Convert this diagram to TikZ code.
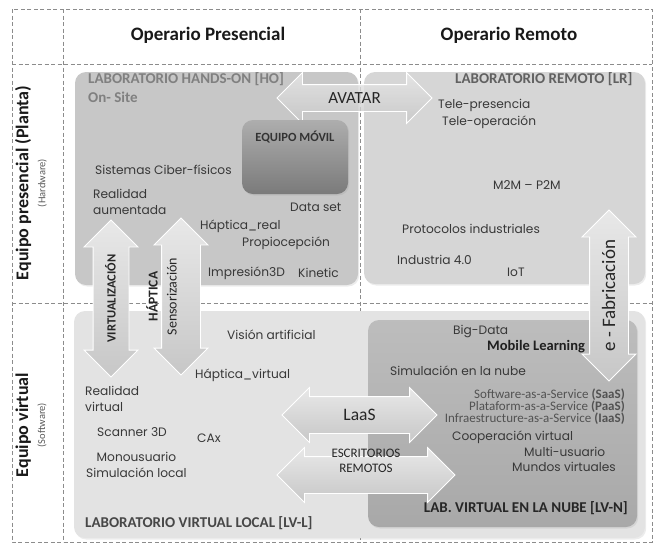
\documentclass[tikz,border=0pt]{standalone}
\usepackage{fontspec}
\setmainfont{Carlito}
\newfontfamily\geo{Poppins}
\usetikzlibrary{shapes.arrows,shadows,positioning}

\begin{document}
\begin{tikzpicture}[x=1pt,y=-1pt]
  \tikzstyle{grid}=[draw=black!45,line width=0.6pt,dash pattern=on 4pt off 2.5pt]
  \tikzstyle{lab}=[rounded corners=11pt,inner sep=0pt,drop shadow={opacity=0.15,shadow xshift=1.2pt,shadow yshift=-1.5pt}]
  \tikzstyle{item}=[font=\geo\fontsize{12.2}{15.5}\selectfont,text=black!78,inner sep=0pt,anchor=west,align=left]
  \tikzstyle{labtitle}=[font=\bfseries\fontsize{15}{18}\selectfont,inner sep=0pt,anchor=west]
  \tikzstyle{service}=[font=\fontsize{13}{15}\selectfont,text=black!68,inner sep=0pt,anchor=east]
  \tikzstyle{heading}=[font=\bfseries\fontsize{18}{20}\selectfont,text=black!90,inner sep=0pt,align=center]
  \tikzstyle{flow}=[double arrow,double arrow tip angle=90,inner xsep=0pt,align=center,
    top color=black!9,bottom color=black!22,draw=white,line width=0.8pt,text=black!85]
  \useasboundingbox (0,0) rectangle (657,547);

  % grid of the table
  \draw[grid] (12,9) rectangle (652,542);
  \draw[grid] (63,9) -- (63,542);
  \draw[grid] (12,64) -- (652,64);
  \draw[grid] (12,303) -- (652,303);
  \draw[grid] (360,9) -- (360,542);

  \node[heading,font=\bfseries\fontsize{19}{21}\selectfont] (presencial) at (208,35) {Operario Presencial};
  \node[heading,font=\bfseries\fontsize{19}{21}\selectfont] (remoto) at (509,35) {Operario Remoto};
  \node[heading,rotate=90] (planta) at (31,183) {Equipo presencial (Planta)\\[-3pt]{\mdseries\fontsize{10.5}{12}\selectfont\color{black!65}(Hardware)}};
  \node[heading,rotate=90] (virtual) at (31,425) {Equipo virtual\\[-3pt]{\mdseries\fontsize{10.5}{12}\selectfont\color{black!65}(Software)}};

  % laboratories
  \node[lab,fill=black!11,minimum width=571pt,minimum height=227pt] (lvl) at (359.5,424.5) {};
  \node[lab,top color=black!26,bottom color=black!34,minimum width=269pt,minimum height=207pt] (lvn) at (502.5,423.5) {};
  \node[lab,fill=black!22,minimum width=283pt,minimum height=213pt] (ho) at (216.5,178.5) {};
  \node[lab,fill=black!16,minimum width=281pt,minimum height=212pt] (lr) at (504.5,178) {};

  % arrows between the laboratories
  \node[flow,font=\fontsize{17}{19}\selectfont,fill opacity=0.8,text opacity=1,minimum height=155pt,
    double arrow head extend=12pt,text height=11pt,text depth=1pt,inner ysep=7pt] (avatar) at (354.5,98) {AVATAR};
  \node[lab,top color=black!32,bottom color=black!52,minimum width=106pt,minimum height=74pt] (movil) at (295,157) {};
  \node[font=\bfseries\fontsize{12.5}{14}\selectfont,text=black!80] (moviltxt) at (295,137) {EQUIPO MÓVIL};

  \node[flow,rotate=90,font=\bfseries\fontsize{12.5}{14}\selectfont,minimum height=157pt,
    double arrow head extend=9pt,text height=9pt,text depth=0pt,inner ysep=13pt] (virt) at (111,298.5) {VIRTUALIZACIÓN};
  \node[flow,rotate=90,font=\fontsize{14}{19}\selectfont,minimum height=157pt,
    double arrow head extend=7.5pt,text height=10pt,text depth=19pt,inner ysep=4.5pt] (haptic) at (181,296.5) {{\bfseries\fontsize{13.5}{19}\selectfont HÁPTICA}\\Sensorización};
  \node[flow,rotate=90,font=\fontsize{19}{21}\selectfont,minimum height=171pt,
    double arrow head extend=7.5pt,text height=13pt,text depth=1pt,inner ysep=12pt] (efab) at (609,295.5) {e - Fabricación};
  \node[flow,font=\fontsize{17.5}{19}\selectfont,minimum height=155pt,
    double arrow head extend=9pt,text height=11pt,text depth=1pt,inner ysep=12pt] (laas) at (359.5,415) {LaaS};
  \node[flow,font=\fontsize{13}{15}\selectfont,minimum height=178pt,
    double arrow head extend=9pt,text height=9pt,text depth=15pt,inner ysep=6pt] (desk) at (366,475) {ESCRITORIOS\\REMOTOS};

  % hands-on
  \node[labtitle,text=black!50] (hotitle) at (88,79) {LABORATORIO HANDS-ON [HO]};
  \node[labtitle,text=black!50] (onsite) at (88,97) {On- Site};
  \node[item] (cps) at (95,170) {Sistemas Ciber-físicos};
  \node[item] (ar) at (93,202) {Realidad\\aumentada};
  \node[item] (dataset) at (290,207) {Data set};
  \node[item] (hreal) at (200,226) {Háptica\_real};
  \node[item] (propio) at (242,243) {Propiocepción};
  \node[item] (print3d) at (208,273) {Impresión3D};
  \node[item] (kinetic) at (298,273) {Kinetic};

  % remote
  \node[labtitle,text=black!62] (lrtitle) at (455,79) {LABORATORIO REMOTO [LR]};
  \node[item] (telep) at (438,105) {Tele-presencia};
  \node[item] (teleo) at (442,122) {Tele-operación};
  \node[item] (m2m) at (493,185) {M2M – P2M};
  \node[item] (proto) at (402,229) {Protocolos industriales};
  \node[item] (i40) at (397,260) {Industria 4.0};
  \node[item] (iot) at (507,272) {IoT};

  % local virtual
  \node[item] (vision) at (227,335) {Visión artificial};
  \node[item] (hvirt) at (195,375) {Háptica\_virtual};
  \node[item] (vr) at (85,399) {Realidad\\virtual};
  \node[item] (scan) at (97,432) {Scanner 3D};
  \node[item] (cax) at (197,438) {CAx};
  \node[item,align=center] (mono) at (86,465) {Monousuario\\Simulación local};
  \node[labtitle,text=black!72] (lvltitle) at (85,523) {LABORATORIO VIRTUAL LOCAL [LV-L]};

  % cloud
  \node[item] (bigdata) at (453,331) {Big-Data};
  \node[labtitle,font=\bfseries\fontsize{14.5}{16}\selectfont,text=black!88] (mobile) at (487,347) {Mobile Learning};
  \node[item] (simnube) at (390,371) {Simulación en la nube};
  \node[service] (saas) at (625,395) {Software-as-a-Service \textbf{(SaaS)}};
  \node[service] (paas) at (625,407) {Plataform-as-a-Service \textbf{(PaaS)}};
  \node[service] (iaas) at (625,419) {Infraestructure-as-a-Service \textbf{(IaaS)}};
  \node[item] (coop) at (452,437) {Cooperación virtual};
  \node[item] (multi) at (524,452) {Multi-usuario};
  \node[item] (mundos) at (512,467) {Mundos virtuales};
  \node[labtitle,text=black!85,anchor=east] (lvntitle) at (628,508) {LAB. VIRTUAL EN LA NUBE [LV-N]};
\end{tikzpicture}
\end{document}
